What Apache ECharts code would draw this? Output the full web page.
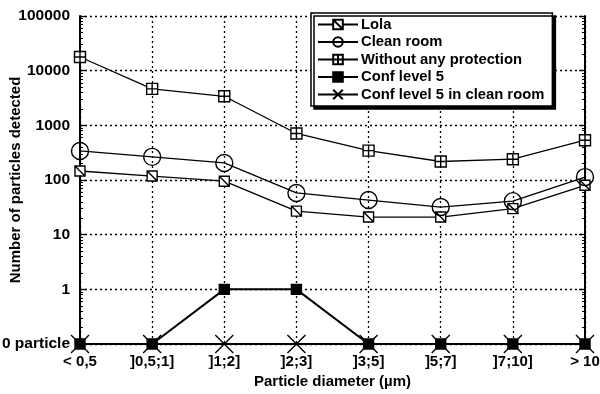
<!DOCTYPE html>
<html>
<head>
<meta charset="utf-8">
<script src="https://cdn.jsdelivr.net/npm/echarts@6/dist/echarts.min.js"></script>
<style>
  html, body { margin: 0; padding: 0; background: #fff; }
  #chart { width: 600px; height: 394px; }
</style>
</head>
<body>
<div id="chart"></div>
<script>
// categories (particle diameter classes)
var categories = ['< 0,5', ']0,5;1]', ']1;2]', ']2;3]', ']3;5]', ']5;7]', ']7;10]', '> 10'];

// particle counts (0 = "0 particle")
var lola = [146, 118, 95, 27, 21, 21, 30, 80];
var cleanRoom = [340, 265, 205, 58, 43, 32, 41, 113];
var withoutProtection = [17800, 4650, 3400, 710, 345, 218, 240, 535];
var confLevel5 = [0, 0, 1, 1, 0, 0, 0, 0];
var confLevel5Clean = [0, 0, 0, 0, 0, 0, 0, 0];

// y tick labels; the bottom decade stands for zero particles
var yTickValues = [0.1, 1, 10, 100, 1000, 10000, 100000];
var yTickLabels = ['0 particle', '1', '10', '100', '1000', '10000', '100000'];
var ZERO_LEVEL = 0.1;

function toPlot(arr) {
    return arr.map(function (v) { return v === 0 ? ZERO_LEVEL : v; });
}

var FONT = 'Liberation Sans';

var myChart = echarts.init(document.getElementById('chart'));

function makeSeries(name, data, symbol, size, color, lineWidth) {
    return {
        name: name,
        type: 'line',
        data: toPlot(data),
        symbol: symbol,
        symbolSize: size,
        showAllSymbol: true,
        lineStyle: { color: '#000', width: lineWidth },
        itemStyle: { color: color, borderColor: '#000', borderWidth: 1.4 },
        z: 3
    };
}

myChart.setOption({
    animation: false,
    backgroundColor: '#fff',
    textStyle: { fontFamily: FONT },
    grid: { left: 80, right: 15, top: 16, bottom: 50, containLabel: false, outerBoundsMode: 'none' },
    legend: {
        orient: 'vertical',
        left: 311,
        top: 13,
        padding: [4, 8, 4, 6],
        itemGap: 2.5,
        itemWidth: 40,
        itemHeight: 12,
        backgroundColor: '#fff',
        borderColor: '#000',
        borderWidth: 1.5,
        shadowColor: '#000',
        shadowOffsetX: 3,
        shadowOffsetY: 3,
        shadowBlur: 0,
        textStyle: { fontFamily: FONT, fontSize: 14.8, lineHeight: 14, fontWeight: 'bold', color: '#000', padding: [0, 0, 0, -2] },
        data: ['Lola', 'Clean room', 'Without any protection', 'Conf level 5', 'Conf level 5 in clean room']
    },
    xAxis: {
        type: 'category',
        data: categories,
        boundaryGap: false,
        name: 'Particle diameter (µm)',
        nameLocation: 'middle',
        nameGap: 30,
        nameMoveOverlap: false,
        nameTextStyle: { fontFamily: FONT, fontSize: 15, fontWeight: 'bold', color: '#000' },
        axisLine: { lineStyle: { color: '#000', width: 2 } },
        axisTick: { show: false },
        axisLabel: { color: '#000', fontSize: 15, fontWeight: 'bold', margin: 10, fontFamily: FONT },
        splitLine: { show: true, lineStyle: { color: '#000', type: [2, 3], width: 1.3 } }
    },
    yAxis: [{
        type: 'log',
        logBase: 10,
        min: 0.1,
        max: 100000,
        name: 'Number of particles detected',
        nameLocation: 'middle',
        nameGap: 57,
        nameMoveOverlap: false,
        nameTextStyle: { fontFamily: FONT, fontSize: 15, fontWeight: 'bold', color: '#000' },
        axisLine: { show: true, lineStyle: { color: '#000', width: 2 } },
        axisTick: { show: true, inside: true, length: 6, lineStyle: { color: '#000', width: 1.3 } },
        minorTick: { show: true, splitNumber: 9, length: 3, lineStyle: { color: '#000' } },
        axisLabel: {
            color: '#000', fontSize: 15.5, fontWeight: 'bold', margin: 10, fontFamily: FONT,
            formatter: function (v) {
                for (var i = 0; i < yTickValues.length; i++) {
                    if (Math.abs(Math.log10(v) - Math.log10(yTickValues[i])) < 0.01) return yTickLabels[i];
                }
                return '';
            }
        },
        splitLine: { show: true, lineStyle: { color: '#000', type: [2, 3], width: 1.3 } }
    }, {
        type: 'log',
        logBase: 10,
        min: 0.1,
        max: 100000,
        position: 'right',
        axisLine: { show: true, lineStyle: { color: '#000', width: 2 } },
        axisTick: { show: true, inside: true, length: 6, lineStyle: { color: '#000', width: 1.3 } },
        minorTick: { show: true, splitNumber: 9, length: 3, lineStyle: { color: '#000' } },
        axisLabel: { show: false },
        splitLine: { show: false }
    }],
    series: [
        makeSeries('Lola', lola, 'path://M0,0L10,0L10,10L0,10ZM0,0L10,10', 10, '#fff', 1.3),
        makeSeries('Clean room', cleanRoom, 'circle', 17, 'rgba(255,255,255,0)', 1.3),
        makeSeries('Without any protection', withoutProtection, 'path://M0,0L10,0L10,10L0,10ZM5,0L5,10M0,5L10,5', 11, '#fff', 1.3),
        makeSeries('Conf level 5', confLevel5, 'rect', 10, '#000', 2),
        makeSeries('Conf level 5 in clean room', confLevel5Clean, 'path://M0,0L10,10M10,0L0,10', 18, 'rgba(255,255,255,0)', 1.5)
    ]
});
</script>
</body>
</html>
